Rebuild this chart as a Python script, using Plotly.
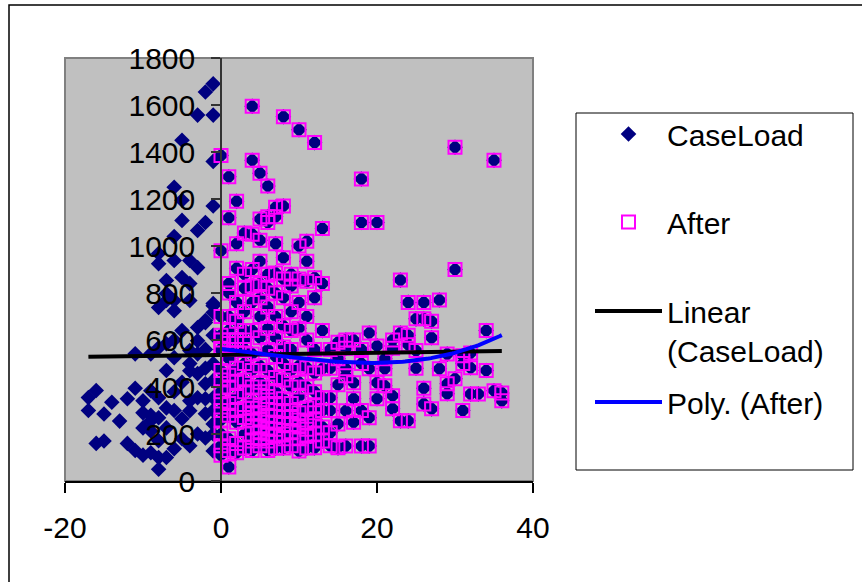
import numpy as np
import plotly.graph_objects as go

# ---- data ----
# CaseLoad points with negative x (only CaseLoad)
neg_x = [-1, -2, -3, -1, -5, -1, -6, -5, -1, -5, -2, -3, -6, -8, -6, -4, -8, -3, -5, -7,
         -4, -7, -8, -6, -1, -6, -7, -4, -1, -2, -3, -3, -7, -8, -9, -11, -6, -4, -3, -4,
         -3, -4, -2, -1, -3, -4, -4, -5, -2, -1, -2, -1, -1, -7, -8, -9, -10, -9, -8, -6,
         -7, -8, -8, -9, -10, -11, -12, -15, -16, -9, -10, -11, -13, -12, -14, -15, -17, -17, -16, -8,
         -7, -10, -9, -1, -1, -2, -1, -2, -1, -2, -1, -2, -5, -6, -5, -6, -7, -3, -4, -5, -6]
neg_y = [1690, 1655, 1557, 1557, 1450, 1360, 1250, 1195, 1170, 1109, 1100, 1066, 1040, 968, 938, 938, 925, 908, 866, 853,
         840, 798, 738, 768, 746, 725, 768, 768, 717, 683, 653, 597, 584, 567, 541, 541, 525, 555, 541, 500,
         457, 469, 414, 427, 354, 341, 299, 265, 286, 243, 183, 128, 354, 226, 269, 256, 226, 213, 171, 137,
         100, 100, 50, 120, 110, 130, 160, 170, 160, 280, 290, 395, 255, 350, 335, 285, 300, 355, 385, 354,
         311, 341, 384, 500, 300, 350, 200, 480, 620, 560, 755, 674, 640, 600, 420, 380, 470, 200, 150, 180, 300]

# "After" values per x column (x = 0 .. 36)
after_cols = {
    0: [980, 1385, 700, 620, 560, 470, 430, 380, 340, 300, 260, 200, 150, 110, 560, 600],
    1: [1295, 1120, 840, 800, 700, 640, 520, 450, 400, 330, 280, 180, 130, 60, 560, 600],
    2: [1190, 1010, 905, 760, 680, 600, 480, 420, 360, 300, 250, 160, 120, 560, 600],
    3: [1055, 880, 820, 720, 640, 560, 500, 430, 380, 310, 270, 200, 140, 560, 600],
    4: [1595, 1365, 1050, 900, 830, 760, 640, 540, 470, 400, 340, 290, 230, 170, 130, 310, 260],
    5: [1310, 1115, 1025, 935, 840, 780, 700, 610, 490, 420, 380, 320, 260, 210, 150, 180, 290, 230],
    6: [1255, 1125, 1100, 880, 820, 740, 650, 560, 470, 400, 330, 280, 220, 170, 130, 250, 360, 200],
    7: [1165, 1125, 1010, 885, 800, 700, 610, 530, 440, 380, 300, 250, 190, 140, 220, 330],
    8: [1550, 1170, 950, 860, 780, 660, 570, 500, 430, 350, 300, 240, 180, 140, 270, 200],
    9: [880, 830, 720, 640, 560, 470, 400, 330, 270, 210, 150, 300, 240],
    10: [1495, 1000, 860, 760, 650, 490, 420, 360, 290, 230, 180, 128, 260],
    11: [1020, 935, 850, 700, 600, 482, 400, 311, 250, 190, 140, 220],
    12: [1440, 865, 780, 560, 460, 380, 320, 260, 200, 141, 290],
    13: [1075, 840, 640, 478, 354, 300, 230, 170],
    14: [560, 480, 354, 300, 205, 150],
    15: [590, 520, 410, 243, 141],
    16: [600, 565, 478, 448, 299, 149],
    17: [600, 418, 350, 250],
    18: [1285, 1100, 560, 500, 300, 149],
    19: [630, 478, 269, 149],
    20: [1100, 575, 418, 350],
    21: [520, 478, 405],
    22: [565, 363, 307, 600],
    23: [855, 630, 256],
    24: [760, 620, 256, 580],
    25: [690, 555, 480],
    26: [760, 690, 395, 328],
    27: [680, 307, 610],
    28: [770, 478],
    29: [540, 414, 371],
    30: [1420, 900, 435],
    31: [533, 500, 300],
    32: [545, 482, 370],
    33: [370],
    34: [640, 470],
    35: [1365, 384],
    36: [375, 341],
}
after_x = [x for x, ys in after_cols.items() for _ in ys]
after_y = [y for ys in after_cols.values() for y in ys]

# CaseLoad = all points (the After points are part of it)
case_x = neg_x + after_x
case_y = neg_y + after_y

x_ticks = [-20, 0, 20, 40]
x_tick_labels = ["-20", "0", "20", "40"]
y_ticks = list(range(0, 1801, 200))

# ---- trendlines computed from the data ----
lin = np.polyfit(case_x, case_y, 1)
lx = np.array([min(case_x), max(case_x)], dtype=float)
ly = np.polyval(lin, lx)
poly = np.polyfit(after_x, after_y, 3)
px_ = np.linspace(min(after_x), max(after_x), 120)
py_ = np.polyval(poly, px_)

FONT = "Liberation Sans, Arial, sans-serif"
FS = 30
W, H = 862, 582
# plot area in pixels
L, R, T, B = 65, 533, 58, 481
dom_x = [L / W, R / W]
dom_y = [(H - B) / H, (H - T) / H]
xr = [-20, 40]
yaxis_pos = dom_x[0] + (0 - xr[0]) / (xr[1] - xr[0]) * (dom_x[1] - dom_x[0])

fig = go.Figure()
fig.add_trace(go.Scatter(
    x=case_x, y=case_y, mode="markers", name="CaseLoad", legend="legend",
    marker=dict(symbol="diamond", size=12, color="#000080", line=dict(width=0)),
))
fig.add_trace(go.Scatter(
    x=after_x, y=after_y, mode="markers", name="After", legend="legend", legendgroup="b",
    marker=dict(symbol="square-open", size=13, color="#FF00FF", line=dict(width=2, color="#FF00FF")),
))
fig.add_trace(go.Scatter(
    x=lx, y=ly, mode="lines", name="Linear<br>(CaseLoad)", legend="legend2",
    line=dict(color="#000000", width=4),
))
fig.add_trace(go.Scatter(
    x=px_, y=py_, mode="lines", name="Poly. (After)", legend="legend2", legendgroup="d",
    line=dict(color="#0000FF", width=4),
))

leg_common = dict(
    xanchor="left", yanchor="top", bgcolor="rgba(0,0,0,0)", borderwidth=0,
    font=dict(family=FONT, size=FS, color="black"), valign="top", itemwidth=67,
)

fig.update_layout(
    template="none",
    width=W, height=H,
    margin=dict(l=0, r=0, t=0, b=0, pad=0, autoexpand=False),
    paper_bgcolor="white",
    plot_bgcolor="#C0C0C0",
    font=dict(family=FONT, size=FS, color="black"),
    showlegend=True,
    legend=dict(x=590 / W, y=(H - 108) / H, tracegroupgap=46, **leg_common),
    legend2=dict(x=590 / W, y=(H - 285) / H, tracegroupgap=10, **leg_common),
    xaxis=dict(
        domain=dom_x, range=xr, tickvals=x_ticks, ticktext=x_tick_labels,
        showgrid=False, zeroline=False, automargin=False,
        showline=True, linecolor="#000000", linewidth=1.5,
        ticks="outside", ticklen=10, tickcolor="#000000", tickwidth=1.5,
        ticklabelstandoff=9,
    ),
    yaxis=dict(
        domain=dom_y, range=[0, 1800], tickvals=y_ticks,
        showgrid=False, zeroline=False, automargin=False,
        anchor="free", position=yaxis_pos,
        showline=True, linecolor="#333333", linewidth=1.5,
        ticks="outside", ticklen=9, tickcolor="#333333", tickwidth=1.5,
        ticklabelstandoff=10,
    ),
    shapes=[
        # plot-area border
        dict(type="rect", xref="x domain", yref="y domain", x0=0, x1=1, y0=0, y1=1,
             line=dict(color="#808080", width=2), layer="below"),
        # legend box
        dict(type="rect", xref="paper", yref="paper", x0=576 / W, x1=853 / W,
             y0=(H - 470) / H, y1=(H - 113) / H, line=dict(color="#000000", width=1)),
        # chart outer border
        dict(type="rect", xref="paper", yref="paper", x0=9 / W, x1=1.02,
             y0=-0.02, y1=(H - 5) / H, line=dict(color="#000000", width=1.5)),
    ],
)

fig.write_html("out.html")
